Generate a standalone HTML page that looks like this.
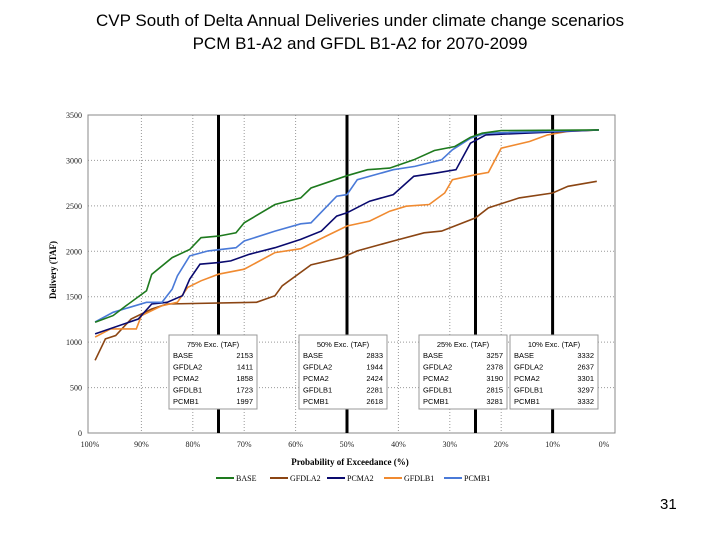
<!DOCTYPE html>
<html><head><meta charset="utf-8"><style>
body{margin:0;width:720px;height:540px;background:#fff;font-family:"Liberation Sans",sans-serif;overflow:hidden;position:relative}
.title{position:absolute;left:0;width:720px;text-align:center;font-size:17px;color:#000}
</style></head><body>
<div class="title" style="top:9px;line-height:23px">CVP South of Delta Annual Deliveries under climate change scenarios<br>PCM B1-A2 and GFDL B1-A2 for 2070-2099</div>
<div style="position:absolute;left:660px;top:496px;font-size:15px">31</div>
<svg id="chart" width="720" height="540" style="position:absolute;left:0;top:0" font-family="Liberation Serif, serif"></svg>
<script>
const yTicks=[0,500,1000,1500,2000,2500,3000,3500];
const xTicks=[100,90,80,70,60,50,40,30,20,10,0];
const markers=[75,50,25,10];
const seriesNames=["BASE","GFDLA2","PCMA2","GFDLB1","PCMB1"];
const baseP=[99,95.5,93,89,88,84,80.6,78.4,75,71.6,70,64,59,57,50,46,41.7,37,33,29,26,23.7,20,1];
const baseV=[1219,1292,1400,1565,1746,1930,2020,2150,2167,2204,2314,2515,2588,2697,2832,2898,2916,3007,3109,3153,3255,3300,3328,3336];
const gfdla2P=[99,97,95,92,88,85,67.6,64,62.6,57,51,48,41,35,31.6,25,22.5,16.5,10,7,1.4];
const gfdla2V=[800,1036,1073,1255,1365,1420,1438,1511,1620,1850,1930,2004,2113,2204,2222,2368,2478,2588,2642,2715,2770];
const pcma2P=[99,90.6,88,85,82,80.6,78.6,75,72.6,69,64,59,55,52,50,45.6,41,37,32.7,28.8,26,23,1];
const pcma2V=[1091,1255,1420,1438,1511,1693,1858,1876,1894,1967,2040,2131,2222,2387,2424,2551,2624,2825,2861,2898,3190,3281,3336];
const gfdlb1P=[99,96,91,90,86,83,81,78.4,75,70,64,59,54,50,45.6,41.7,38.5,34,31,29.5,25,22.5,20,14.5,11,7.2,1];
const gfdlb1V=[1055,1146,1146,1292,1401,1438,1602,1675,1748,1803,1985,2029,2168,2278,2332,2441,2496,2515,2642,2788,2843,2868,3135,3208,3281,3318,3336];
const pcmb1P=[99,95.5,89,86,84,83,80.6,77,71.6,70,64,59,57,52,50,48,41,36.8,31.6,29.5,26,23,1];
const pcmb1V=[1222,1328,1438,1438,1584,1730,1949,2004,2040,2113,2222,2302,2314,2606,2624,2788,2898,2934,3007,3117,3244,3300,3336];
const tblTitles=["75% Exc. (TAF)","50% Exc. (TAF)","25% Exc. (TAF)","10% Exc. (TAF)"];
const tbl75=[2153,1411,1858,1723,1997];
const tbl50=[2833,1944,2424,2281,2618];
const tbl25=[3257,2378,3190,2815,3281];
const tbl10=[3332,2637,3301,3297,3332];

const colors=["#1e7a1e","#8b4513","#0a0a6e","#f08a30","#4a7ad8"];
const svg=document.getElementById('chart');
const NS='http://www.w3.org/2000/svg';
const L=88,R=615,T=115,B=433;
const x=p=>604-5.14*p;
const y=v=>B-(v/3500)*(B-T);
function mk(tag,attrs,parent){const e=document.createElementNS(NS,tag);for(const k in attrs)e.setAttribute(k,attrs[k]);(parent||svg).appendChild(e);return e;}
// grid
yTicks.forEach(v=>{
 if(v>0&&v<3500){const g=mk('line',{x1:L,x2:R,y1:y(v),y2:y(v),stroke:'#999','stroke-dasharray':'1,2'});
 
 }
 const t=mk('text',{x:L-6,y:y(v)+3,'font-size':8,'text-anchor':'end',fill:'#222'});t.textContent=v;
 
 
});
xTicks.forEach(p=>{
 if(p>0&&p<100){const g=mk('line',{x1:x(p),x2:x(p),y1:T,y2:B,stroke:'#999','stroke-dasharray':'1,2'});
 
 }
 const t=mk('text',{x:x(p),y:B+14,'font-size':8,'text-anchor':'middle',fill:'#222'});t.textContent=p+'%';
 
 
});
const fr=mk('rect',{x:L,y:T,width:R-L,height:B-T,fill:'none',stroke:'#888'});


const sd=[[baseP,baseV],[gfdla2P,gfdla2V],[pcma2P,pcma2V],[gfdlb1P,gfdlb1V],[pcmb1P,pcmb1V]];
markers.forEach(p=>{const m=mk('line',{x1:x(p),x2:x(p),y1:T,y2:B,stroke:'#000','stroke-width':3});
 
 });
[1,3,2,4,0].forEach(i=>{
 const [P,V]=sd[i];
 const pts=P.map((p,j)=>x(p).toFixed(1)+','+y(V[j]).toFixed(1)).join(' ');
 const pl=mk('polyline',{points:pts,fill:'none',stroke:colors[i],'stroke-width':1.6});
 
 
});
// tables
const tvals=[tbl75,tbl50,tbl25,tbl10];
const tx=[169,299,419,510];
tx.forEach((bx,k)=>{
 const g=mk('g',{});
 
 
 mk('rect',{x:bx,y:335,width:88,height:74,fill:'#fff',stroke:'#999'},g);
 const h=mk('text',{x:bx+44,y:347,'font-size':7.5,'text-anchor':'middle','font-family':'Liberation Sans, sans-serif'},g);h.textContent=tblTitles[k];
 seriesNames.forEach((n,j)=>{
  const a=mk('text',{x:bx+4,y:358+j*11.5,'font-size':7.5,'font-family':'Liberation Sans, sans-serif'},g);a.textContent=n;
  const b=mk('text',{x:bx+84,y:358+j*11.5,'font-size':7.5,'text-anchor':'end','font-family':'Liberation Sans, sans-serif'},g);b.textContent=tvals[k][j];
 });
});
// titles
const xt=mk('text',{x:350,y:465,'font-size':9,'font-weight':'bold','text-anchor':'middle'});xt.textContent='Probability of Exceedance (%)';


const yt=mk('text',{x:0,y:0,'font-size':9,'font-weight':'bold','text-anchor':'middle',transform:'translate(56,270) rotate(-90)'});yt.textContent='Delivery (TAF)';


// legend
const lx=[216,270,327,384,444];
seriesNames.forEach((n,i)=>{
 const g=mk('g',{});
 
 
 mk('line',{x1:lx[i],x2:lx[i]+18,y1:478,y2:478,stroke:colors[i],'stroke-width':2},g);
 const t=mk('text',{x:lx[i]+20,y:481,'font-size':8},g);t.textContent=n;
});
</script>
</body></html>
